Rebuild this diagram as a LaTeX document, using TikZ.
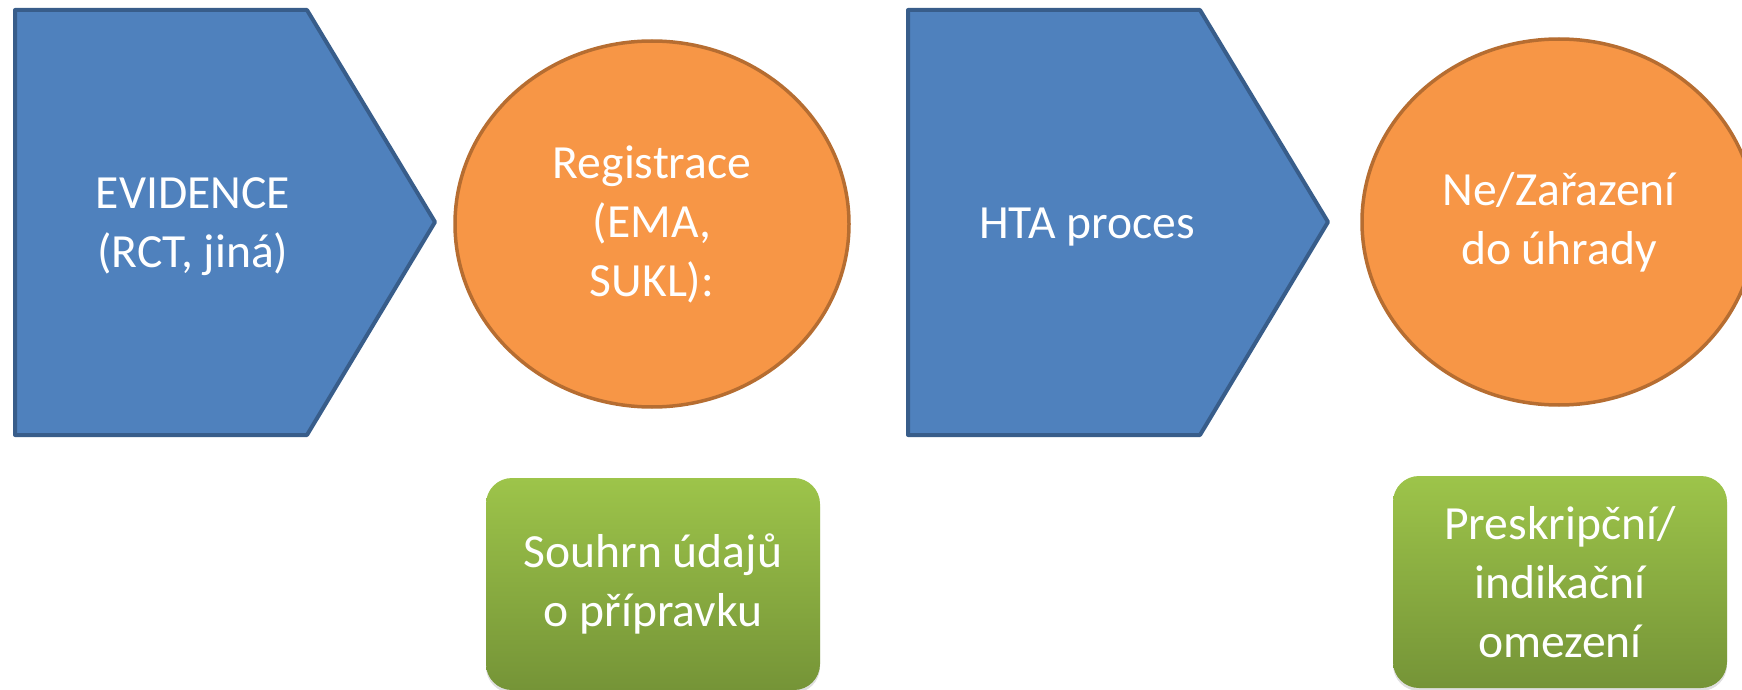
\documentclass[tikz,border=0pt]{standalone}
\usepackage{fontspec}
\setmainfont{Carlito}
\usetikzlibrary{shapes.geometric,shadows}
\definecolor{blfill}{RGB}{79,129,189}
\definecolor{bldraw}{RGB}{56,93,138}
\definecolor{orfill}{RGB}{247,150,70}
\definecolor{ordraw}{RGB}{182,109,49}
\definecolor{grtop}{RGB}{157,196,74}
\definecolor{grbot}{RGB}{117,148,55}
\begin{document}
\begin{tikzpicture}[x=0.5pt, y=-0.5pt,
	txt/.style={text=white, align=center, font=\fontsize{23.8}{29.5}\selectfont},
	pent/.style={fill=blfill, draw=bldraw, line width=2pt, line join=round},
	oval/.style={ellipse, fill=orfill, draw=ordraw, line width=1.75pt, inner sep=0pt,
		minimum width=197pt, minimum height=183pt, txt},
	limit/.style={rectangle, rounded corners=13pt, top color=grtop, bottom color=grbot,
		minimum width=167pt, minimum height=106pt, inner sep=0pt, txt,
		drop shadow={opacity=0.25, shadow xshift=0pt, shadow yshift=-1.5pt}}]
	\useasboundingbox (0,0) rectangle (1742,690);
	
	%process steps
	\foreach \x in {15, 908}{
		\draw[pent] (\x,10) -- (\x+292,10) -- (\x+420,222) -- (\x+292,435) -- (\x,435) -- cycle;
	}
	\node[txt] (evidence) at (193,227){EVIDENCE\\(RCT, jiná)};
	\node[txt] (hta) at (1087,227){HTA proces};
	
	%decisions
	\node[oval] (registrace) at (652,224){Registrace\\(EMA,\\SUKL):};
	\node[oval] (uhrada) at (1559,222){Ne/Zařazení\\do úhrady};
	
	%outputs
	\node[limit] (spc) at (653,584){Souhrn údajů\\o přípravku};
	\node[limit] (omezeni) at (1560,582){Preskripční/\\indikační\\omezení};
\end{tikzpicture}
\end{document}
